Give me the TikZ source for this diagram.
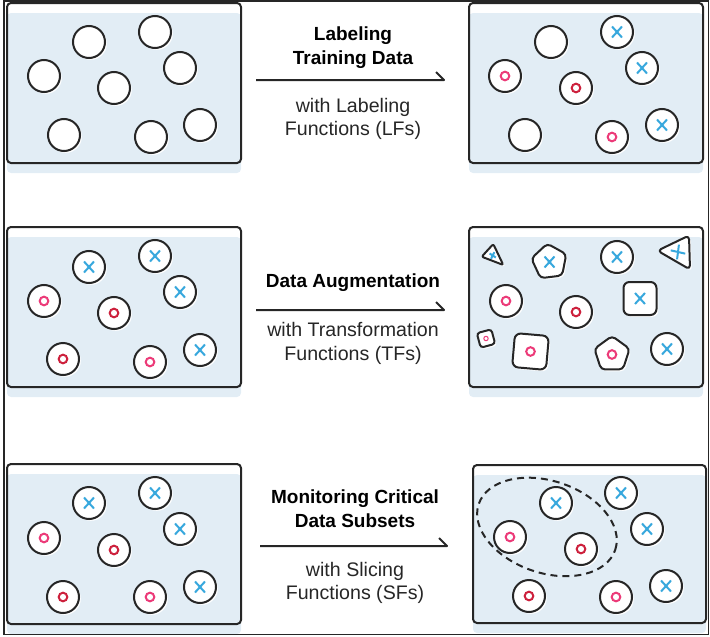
\documentclass[tikz,border=0pt]{standalone}
\usepackage{fontspec}
\setmainfont{Liberation Sans}
\usetikzlibrary{shapes.geometric,shadows}
\definecolor{ink}{RGB}{38,38,38}
\definecolor{pfill}{RGB}{226,237,245}
\definecolor{xblue}{RGB}{56,168,221}
\definecolor{opink}{RGB}{236,58,120}
\definecolor{ored}{RGB}{205,32,60}
\tikzset{
  panelbox/.style={draw=ink,line width=2pt,rounded corners=4pt},
  panelshade/.style={fill=pfill,rounded corners=4pt},
  wshadow/.style={general shadow={fill=white,shadow xshift=1.8pt,shadow yshift=-1.8pt}},
  bub/.style={circle,draw=ink,fill=white,line width=2pt,minimum size=32pt,inner sep=0pt,wshadow},
  sq/.style={rectangle,draw=ink,fill=white,line width=2pt,inner sep=0pt,rounded corners=6pt,wshadow},
  poly5/.style={regular polygon,regular polygon sides=5,draw=ink,fill=white,line width=2pt,inner sep=0pt,rounded corners=4pt,wshadow},
  tri/.style={draw=ink,fill=white,line width=2pt,line join=round,wshadow},
  arr/.style={draw=ink,line width=2pt,line join=round},
  boldlbl/.style={font=\fontsize{19}{22}\selectfont\bfseries,text=black,inner sep=0pt,anchor=base},
  reglbl/.style={font=\fontsize{19.6}{22}\selectfont,text=ink,inner sep=0pt,anchor=base},
  xm/.pic={\draw[xblue,line width=2pt] (-5,-5.5)--(5,5.5) (-5,5.5)--(5,-5.5);},
  om/.pic={\draw[opink,line width=2pt] (0,0) circle (4.3pt);},
  od/.pic={\draw[ored,line width=2pt] (0,0) circle (4.3pt);},
  blank/.pic={},
}
\newcommand\bub[4]{\node[bub] (#1) at (#2,#3) {}; \pic at (#1) {#4};}
\begin{document}
\begin{tikzpicture}[x=1pt,y=-1pt]
\useasboundingbox (0,0) rectangle (710,637);
% panels
\fill[panelshade] (7,13) rectangle (241,173);
\draw[panelbox] (7,3) rectangle (241,163);
\fill[panelshade] (469,13) rectangle (703,173);
\draw[panelbox] (469,3) rectangle (703,163);
\fill[panelshade] (7,237) rectangle (241,397);
\draw[panelbox] (7,227) rectangle (241,387);
\fill[panelshade] (469,237) rectangle (703,397);
\draw[panelbox] (469,227) rectangle (703,387);
\fill[panelshade] (7,474) rectangle (241,634);
\draw[panelbox] (7,464) rectangle (241,624);
\fill[panelshade] (473,475) rectangle (706,633);
\draw[panelbox] (473,465) rectangle (706,623);
% row 1 left
\bub{a1}{89}{42}{blank}
\bub{a2}{155}{32}{blank}
\bub{a3}{44}{76}{blank}
\bub{a4}{180}{68}{blank}
\bub{a5}{114}{88}{blank}
\bub{a6}{64}{135}{blank}
\bub{a7}{151}{137}{blank}
\bub{a8}{200}{125}{blank}
% row 1 right
\bub{b1}{551}{42}{blank}
\bub{b2}{617}{32}{xm}
\bub{b3}{505}{76}{om}
\bub{b4}{642}{68}{xm}
\bub{b5}{576}{88}{od}
\bub{b6}{525}{135}{blank}
\bub{b7}{612}{137}{om}
\bub{b8}{662}{125}{xm}
% row 2 left
\bub{c1}{89}{267}{xm}
\bub{c2}{155}{256}{xm}
\bub{c3}{44}{301}{om}
\bub{c4}{180}{292}{xm}
\bub{c5}{114}{313}{od}
\bub{c6}{63}{359}{od}
\bub{c7}{150}{362}{om}
\bub{c8}{200}{350}{xm}
% row 2 right (augmented)
\draw[tri,rounded corners=2pt] (481.7,256.7) -- (493.3,244) -- (503.3,265) -- cycle;
\pic[scale=0.5,rotate=15] at (492.7,255.5) {xm};
\node[poly5,rotate=7,minimum size=37pt] (d2) at (549.5,262) {};
\pic at (d2) {xm};
\bub{d3}{617}{257}{xm}
\draw[tri,rounded corners=4pt] (657.5,250.7) -- (689,235.5) -- (690,269.5) -- cycle;
\pic[rotate=35] at (678,252) {xm};
\bub{d5}{506}{301}{om}
\bub{d6}{576}{312}{od}
\node[sq,minimum size=33pt] (d7) at (640,298.5) {};
\pic at (d7) {xm};
\node[sq,minimum size=15pt,rounded corners=3pt,rotate=15] (d8) at (486,338.5) {};
\draw[opink,line width=1pt] (d8.center) circle (2.2pt);
\node[sq,minimum size=34pt,rotate=-5] (d9) at (530.5,351.5) {};
\pic at (d9) {om};
\node[poly5,minimum size=37pt] (d10) at (612,354.5) {};
\pic at (d10) {om};
\bub{d11}{667}{349}{xm}
% row 3 left
\bub{e1}{89}{503}{xm}
\bub{e2}{155}{493}{xm}
\bub{e3}{44}{538}{om}
\bub{e4}{180}{529}{xm}
\bub{e5}{114}{550}{od}
\bub{e6}{63}{597}{od}
\bub{e7}{150}{597}{om}
\bub{e8}{200}{587}{xm}
% row 3 right
\bub{f1}{556}{503}{xm}
\bub{f2}{621}{493}{xm}
\bub{f3}{510}{537}{om}
\bub{f4}{647}{529}{xm}
\bub{f5}{581}{549}{od}
\bub{f6}{529}{596}{od}
\bub{f7}{616}{597}{om}
\bub{f8}{666}{586}{xm}
\coordinate (slc) at (547,527);
\draw[ink,line width=2pt,dash pattern=on 7pt off 5pt,rotate around={-18.5:(slc)}] (slc) ellipse [x radius=72pt,y radius=46pt];
% arrows
\coordinate (a1s) at (256,80); \coordinate (a1e) at (444,80);
\draw[arr] (a1s) -- (a1e) -- ++(-8,-8);
\coordinate (a2s) at (256,310); \coordinate (a2e) at (444,310);
\draw[arr] (a2s) -- (a2e) -- ++(-8,-8);
\coordinate (a3s) at (260,546); \coordinate (a3e) at (447,546);
\draw[arr] (a3s) -- (a3e) -- ++(-8,-8);
% labels
\node[boldlbl] (t1a) at (353,40) {Labeling};
\node[boldlbl] (t1b) at (353,64) {Training Data};
\node[reglbl] (t1c) at (353,112) {with Labeling};
\node[reglbl] (t1d) at (353,135) {Functions (LFs)};
\node[boldlbl] (t2a) at (353,287) {Data Augmentation};
\node[reglbl] (t2c) at (353,336) {with Transformation};
\node[reglbl] (t2d) at (353,360) {Functions (TFs)};
\node[boldlbl] (t3a) at (355,503) {Monitoring Critical};
\node[boldlbl] (t3b) at (355,527) {Data Subsets};
\node[reglbl] (t3c) at (355,576) {with Slicing};
\node[reglbl] (t3d) at (355,599) {Functions (SFs)};
% outer frame
\draw[ink,line width=1.6pt] (4,1) rectangle (708.5,634.5);
\end{tikzpicture}
\end{document}
